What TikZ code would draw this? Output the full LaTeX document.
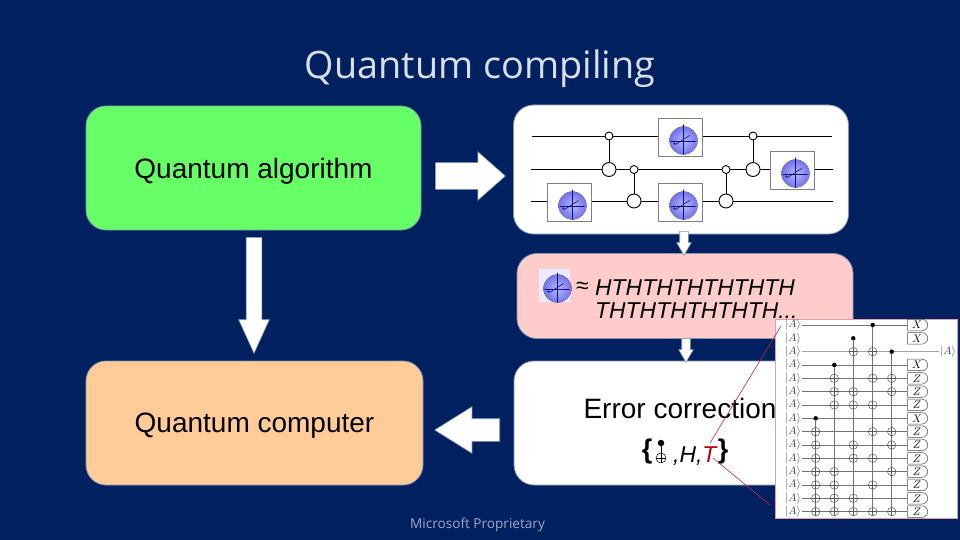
\documentclass[tikz,border=0pt]{standalone}
\usepackage{fontspec}
\setmainfont{Liberation Sans}
\newfontfamily\slidefont{Open Sans}
\usetikzlibrary{shapes.arrows,shapes.misc}
\definecolor{slidebg}{HTML}{002060}
\definecolor{boxedge}{HTML}{8496B0}
\definecolor{algogreen}{HTML}{66FF66}
\definecolor{compbox}{HTML}{FFCC99}
\definecolor{pinkbox}{HTML}{FFCCCC}
\definecolor{callout}{HTML}{B82A50}
\definecolor{tred}{HTML}{C00000}
\definecolor{axisblue}{HTML}{101080}
\tikzset{
  panel/.style={draw=boxedge, line width=0.8pt, rounded corners=20pt, inner sep=0pt},
  bigtext/.style={font=\fontsize{28}{33}\selectfont, text=black},
  seqtext/.style={font=\fontsize{22.9}{27}\selectfont\itshape, text=black, inner sep=0pt},
  fatarrow/.style={single arrow, anchor=tail, draw=boxedge, line width=0.6pt, fill=white, inner xsep=0pt, single arrow head indent=0pt},
  gatebox/.style={draw=gray, line width=0.9pt, fill=white, minimum width=44pt, minimum height=38pt, inner sep=0pt},
  ctrlc/.style={circle, draw=black, line width=0.9pt, fill=white, minimum size=8pt, inner sep=0pt},
  targ/.style={circle, draw=black, line width=0.9pt, fill=white, minimum size=14pt, inner sep=0pt},
  qwire/.style={draw=black, line width=0.9pt},
  oplus/.style={circle, draw=#1, line width=0.5pt, minimum size=8.5pt, inner sep=0pt,
    path picture={\draw[#1, line width=0.5pt] (path picture bounding box.north) -- (path picture bounding box.south)
      (path picture bounding box.west) -- (path picture bounding box.east);}},
  dotc/.style={circle, fill=black, minimum size=4.5pt, inner sep=0pt},
  ket/.style={font=\fontsize{11}{12}\selectfont, text=black!75, inner sep=1pt},
  meas/.style={rounded rectangle, rounded rectangle left arc=none, draw=black!70, line width=0.5pt, fill=white,
    minimum width=20pt, minimum height=11.5pt, inner sep=0pt, font=\fontsize{11}{12}\selectfont},
  inwire/.style={draw=black!55, line width=0.6pt},
  bloch/.pic={
    \fill[inner color=blue!28, outer color=blue!50!white!90!black] (3,3) circle (14pt);
    \draw[axisblue, line width=0.6pt] (3,-13) -- (3,17) (-10,4) -- (15,4) (-5,7) -- (9,-2);
    \fill[axisblue] (-6,6) circle (1.1pt) (3,4) circle (0.9pt);
  }
}
\begin{document}
\begin{tikzpicture}[x=1pt, y=-1pt]
\path[use as bounding box, fill=slidebg] (0,0) rectangle (960,540);
\node (title) at (480,69) [font=\slidefont\fontsize{37.8}{44}\selectfont, text=white!85!slidebg] {Quantum compiling};
\node (footer) at (477.5,525) [font=\slidefont\fontsize{13.6}{16}\selectfont, text=white!62!slidebg] {Microsoft Proprietary};

\node[panel, fill=algogreen, minimum width=335pt, minimum height=124pt] (algo) at (253.5,168) {};
\node[panel, fill=white, minimum width=335pt, minimum height=129pt] (circ) at (681,169.5) {};
\node[panel, fill=pinkbox, minimum width=336pt, minimum height=85pt] (seq) at (685,296) {};
\node[panel, fill=white, minimum width=336pt, minimum height=124pt] (ecc) at (682,423) {};
\node[panel, fill=compbox, minimum width=337pt, minimum height=124pt] (comp) at (254.5,423) {};

\node[bigtext] (algotext) at (253.5,171) {Quantum algorithm};
\node[bigtext] (comptext) at (254.5,426) {Quantum computer};
\node[bigtext] (ecctext) at (680,408.5) {Error correction};

\node[fatarrow, inner ysep=13pt, minimum height=70pt, minimum width=48pt, single arrow head extend=11pt, single arrow tip angle=83] (arrowa) at (435,176) {};
\node[fatarrow, rotate=-90, inner ysep=7.5pt, minimum height=116pt, minimum width=30pt, single arrow head extend=7.5pt, single arrow tip angle=49] (arrowb) at (254,237) {};
\node[fatarrow, rotate=180, inner ysep=11pt, minimum height=65pt, minimum width=46pt, single arrow head extend=12pt, single arrow tip angle=64] (arrowc) at (500,430) {};
\node[fatarrow, rotate=-90, inner ysep=4pt, minimum height=24pt, minimum width=14pt, single arrow head extend=3pt, single arrow tip angle=60] (arrowd) at (684,231) {};
\node[fatarrow, rotate=-90, inner ysep=4pt, minimum height=24pt, minimum width=14pt, single arrow head extend=3pt, single arrow tip angle=60] (arrowe) at (686,338) {};

% circuit wires
\coordinate (wa) at (532,136); \coordinate (wb) at (832,136);
\coordinate (wc) at (531,169.5); \coordinate (wd) at (833,169.5);
\coordinate (we) at (531,201); \coordinate (wf) at (833,201);
\draw[qwire] (wa) -- (wb);
\draw[qwire] (wc) -- (wd);
\draw[qwire] (we) -- (wf);
\node[gatebox] (gatea) at (680.5,137.5) {};
\node[gatebox] (gateb) at (569.5,202.5) {};
\node[gatebox] (gatec) at (680.5,202.5) {};
\node[gatebox] (gated) at (792.5,170.5) {};
\foreach \g in {gatea,gateb,gatec,gated}
  \pic at (\g) {bloch};
\foreach \n/\x/\ya/\yb in {1/609/136/169.5, 2/634/169.5/201, 3/726/169.5/201, 4/753/136/169.5} {
  \node[ctrlc] (ctl\n) at (\x,\ya) {};
  \node[targ] (tgt\n) at (\x,\yb) {};
  \draw[qwire] (ctl\n) -- (tgt\n);
}

% sequence
\node[draw=none, fill=white!92!blue, minimum width=31pt, minimum height=33pt, inner sep=0pt] (seqgate) at (554.5,285.5) {};
\pic at (seqgate) {bloch};
\node[font=\fontsize{22.9}{27}\selectfont, inner sep=0pt] (approx) at (582.5,288) {≈};
\node[seqtext, anchor=base west] (seqa) at (595,295) {HTHTHTHTHTHTH};
\node[seqtext, anchor=base west] (seqb) at (595,318.5) {THTHTHTHTHTH...};

% gate set
\node[font=\fontsize{27}{32}\selectfont\bfseries, inner sep=0pt] (lbrace) at (647,452) {\{};
\node[font=\fontsize{27}{32}\selectfont\bfseries, inner sep=0pt] (rbrace) at (723,452) {\}};
\node[dotc, minimum size=6.5pt] (setdot) at (661,443) {};
\node[oplus=black, minimum size=10pt] (setplus) at (661,458) {};
\draw[black, line width=0.6pt] (setdot) -- (setplus);
\node[font=\fontsize{22.9}{27}\selectfont\itshape, inner sep=0pt, anchor=base west] (gateset) at (673,462) {,H,\textcolor{tred}{T}};

% inset
\node[draw=callout!45!white, line width=0.6pt, fill=white, minimum width=182pt, minimum height=199pt, inner sep=0pt] (inset) at (866.5,418.5) {};
\foreach \r in {1,...,15} {
  \pgfmathsetmacro\ry{325+(\r-1)*13.33}
  \node[ket] (ket\r) at (793,\ry) {$|A\rangle$};
}
\node[ket] (ketout) at (948,351.7) {$|A\rangle$};
\foreach \r/\m in {1/X,2/X,4/X,5/Z,6/Z,7/Z,8/X,9/Z,10/Z,11/Z,12/Z,13/Z,14/Z,15/Z} {
  \pgfmathsetmacro\ry{325+(\r-1)*13.33}
  \node[meas] (m\r) at (917,\ry) {$\m$};
}
\foreach \r in {1,4,5,...,15}
  \draw[inwire] (ket\r) -- (m\r);
\draw[inwire] (ket3) -- (ketout); % no wire on row 2
\foreach \c/\x/\rc/\rows in {a/815.7/8/{9,10,11,12,13,14,15},
    b/834.3/4/{5,6,7,12,13,14,15},
    c/853.3/2/{3,6,7,10,11,14,15},
    d/872.7/1/{3,5,7,9,11,13,15},
    e/891.7/3/{5,6,9,10,12,15}} {
  \pgfmathsetmacro\cy{325+(\rc-1)*13.33}
  \node[dotc] (dot\c) at (\x,\cy) {};
  \coordinate (end\c) at (\x,511.6);
  \draw[inwire] (dot\c) -- (end\c);
  \foreach \t in \rows {
    \pgfmathsetmacro\ty{325+(\t-1)*13.33}
    \node[oplus=black!65] (pl\c\t) at (\x,\ty) {};
  }
}

% callout lines
\coordinate (calla) at (781,326);
\coordinate (callb) at (710,443);
\coordinate (callc) at (713,458);
\coordinate (calld) at (770,505);
\draw[callout, line width=0.6pt] (calla) -- (callb);
\draw[callout, line width=0.6pt] (callc) -- (calld);
\end{tikzpicture}
\end{document}
